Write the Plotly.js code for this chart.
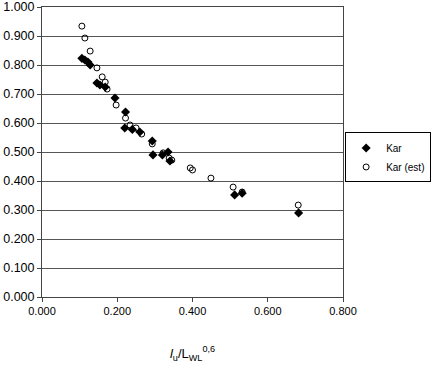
<!DOCTYPE html>
<html>
<head>
<meta charset="utf-8">
<script src="https://cdn.plot.ly/plotly-3.0.1.min.js"></script>
<style>html,body{margin:0;padding:0;background:#fff;}#chart{width:432px;height:368px;}</style>
</head>
<body>
<div id="chart"></div>
<script>
// Kar (measured)
const karX = [0.106,0.114,0.122,0.128,0.146,0.154,0.168,0.194,0.222,0.220,0.240,0.260,0.293,0.295,0.320,0.335,0.340,0.512,0.532,0.682];
const karY = [0.823,0.817,0.810,0.800,0.738,0.731,0.724,0.686,0.638,0.583,0.578,0.569,0.538,0.490,0.490,0.500,0.469,0.352,0.358,0.290];
// Kar (est)
const estX = [0.106,0.114,0.128,0.146,0.160,0.168,0.173,0.197,0.222,0.234,0.250,0.265,0.293,0.322,0.338,0.345,0.394,0.400,0.449,0.508,0.532,0.681];
const estY = [0.934,0.893,0.848,0.790,0.759,0.741,0.717,0.662,0.617,0.593,0.583,0.562,0.528,0.497,0.479,0.472,0.445,0.438,0.410,0.379,0.362,0.317];
const seriesNames = ["Kar", "Kar (est)"];
const xTicks = [0, 0.2, 0.4, 0.6, 0.8];
const yTicks = [0,0.1,0.2,0.3,0.4,0.5,0.6,0.7,0.8,0.9,1.0];

const traces = [
  {x: karX, y: karY, name: seriesNames[0], type: 'scatter', mode: 'markers',
   marker: {symbol: 'diamond', size: 7, color: '#000'}},
  {x: estX, y: estY, name: seriesNames[1], type: 'scatter', mode: 'markers',
   marker: {symbol: 'circle-open', size: 6, color: '#000', line: {width: 1, color: '#000'}}}
];

const layout = {
  width: 432, height: 368,
  margin: {l: 42, r: 89, t: 7, b: 71, autoexpand: false},
  paper_bgcolor: '#fff', plot_bgcolor: '#fff',
  font: {family: 'Liberation Sans, Arial, sans-serif', color: '#000', size: 11},
  showlegend: true,
  legend: {xref: 'container', yref: 'container', x: 0.998, y: 0.64, xanchor: 'right', yanchor: 'top',
           bordercolor: '#000', borderwidth: 1, bgcolor: '#fff',
           font: {size: 10}, itemwidth: 30, tracegroupgap: 0},
  xaxis: {range: [0, 0.8], tickvals: xTicks, tickformat: '.3f',
          showgrid: false, zeroline: false, showline: true, linecolor: '#444', linewidth: 1,
          mirror: true, ticks: 'outside', ticklen: 4, tickcolor: '#444',
          tickfont: {size: 11},
          title: {text: '<i>l</i><sub>u</sub>/L<sub>WL</sub><sup>0,6</sup>', font: {size: 13}, standoff: 32}},
  yaxis: {range: [0, 1.0], tickvals: yTicks, tickformat: '.3f',
          showgrid: true, gridcolor: '#555', gridwidth: 1, zeroline: false,
          showline: true, linecolor: '#444', linewidth: 1, mirror: true,
          ticks: 'outside', ticklen: 4, tickcolor: '#444',
          tickfont: {size: 12.5}}
};

Plotly.newPlot('chart', traces, layout, {displayModeBar: false, staticPlot: true});
</script>
</body>
</html>
